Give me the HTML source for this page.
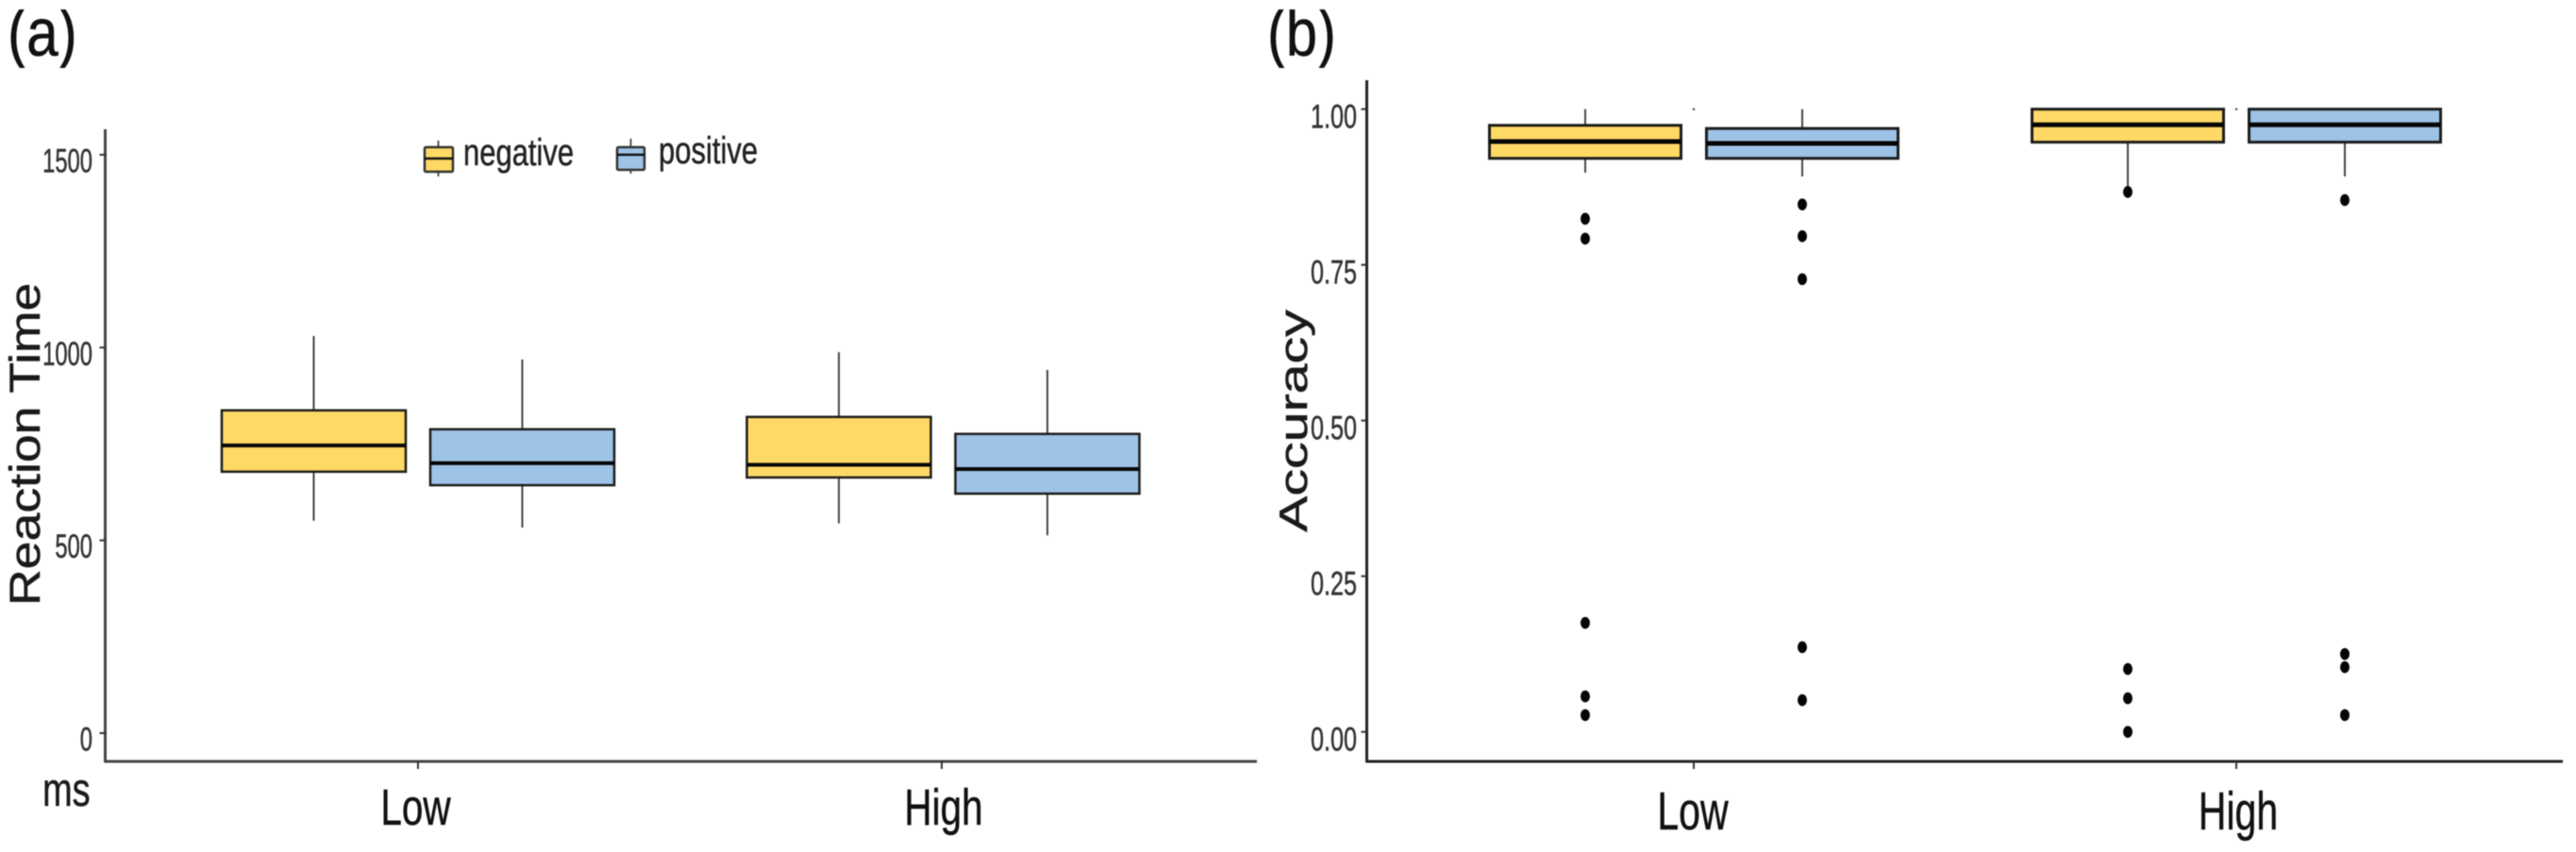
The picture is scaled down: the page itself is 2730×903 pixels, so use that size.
<!DOCTYPE html>
<html lang="en">
<head>
<meta charset="utf-8">
<title>Reaction time and accuracy box plots</title>
<style>
  html, body { margin: 0; padding: 0; background: #fff; }
  body { width: 2730px; height: 903px; overflow: hidden; }
  svg { display: block; filter: blur(0.55px); }
  text { font-family: "Liberation Sans", Arial, sans-serif; stroke-width: 0.5px; }
</style>
</head>
<body>
<svg id="figure" xmlns="http://www.w3.org/2000/svg" width="2730" height="903" viewBox="0 0 2730 903">
  <defs>
    <clipPath id="label-clip"><rect x="0" y="10" width="2730" height="62"/></clipPath>
  </defs>
  <rect x="0" y="0" width="2730" height="903" fill="#ffffff"/>

  <g clip-path="url(#label-clip)">
    <text transform="translate(8,59) scale(0.85,1)" font-size="71" fill="#111" stroke="#111">(a)</text>
    <text transform="translate(1343,59) scale(0.84,1)" font-size="71" fill="#111" stroke="#111">(b)</text>
  </g>

  <text transform="translate(42,642) rotate(-90) scale(1.19,1)" font-size="45" fill="#1a1a1a" stroke="#1a1a1a">Reaction Time</text>
  <text transform="translate(1385,564) rotate(-90) scale(1.365,1)" font-size="42" fill="#1a1a1a" stroke="#1a1a1a">Accuracy</text>
  <text transform="translate(45,854) scale(0.76,1)" font-size="50" fill="#1a1a1a" stroke="#1a1a1a">ms</text>

  <g id="plot-a"></g>
  <g id="plot-b"></g>

  <g>
    <g>
      <line x1="464.5" x2="464.5" y1="149" y2="187" stroke="#555" stroke-width="2"/>
      <rect x="450" y="156" width="30" height="26" rx="1.5" fill="#FFD966" stroke="#333" stroke-width="2.5"/>
      <line x1="450" x2="480" y1="168" y2="168" stroke="#111" stroke-width="2.5"/>
      <text transform="translate(491,175) scale(0.775,1)" font-size="40" fill="#222" stroke="#222">negative</text>
    </g>
    <g>
      <line x1="668.5" x2="668.5" y1="147" y2="184" stroke="#555" stroke-width="2"/>
      <rect x="654" y="156" width="29" height="24" rx="1.5" fill="#9DC3E6" stroke="#333" stroke-width="2.5"/>
      <line x1="654" x2="683" y1="164" y2="164" stroke="#111" stroke-width="2.5"/>
      <text transform="translate(698,173) scale(0.775,1)" font-size="40" fill="#222" stroke="#222">positive</text>
    </g>
  </g>
</svg>

<script>
// Shared categories; every series array is ordered Low-negative, Low-positive, High-negative, High-positive.
const categories = ['Low', 'High'];
const groups = ['negative', 'positive'];
const fills = ['#FFD966', '#9DC3E6'];

// Panel (a): Reaction Time
const rtTicks = [0, 500, 1000, 1500];
const rtTickLabels = ['0', '500', '1000', '1500'];
const rtWhiskerHigh = [1030, 969, 988, 942];
const rtQ3 = [837, 788, 820, 776];
const rtMedian = [746, 700, 696, 685];
const rtQ1 = [678, 643, 663, 621];
const rtWhiskerLow = [551, 533, 544, 513];
const rtOutliers = [[], [], [], []];
const rtStrayMarks = [];

// Panel (b): Accuracy
const accTicks = [0, 0.25, 0.5, 0.75, 1];
const accTickLabels = ['0.00', '0.25', '0.50', '0.75', '1.00'];
const accWhiskerHigh = [1, 1, 1, 1];
const accQ3 = [0.974, 0.969, 1, 1];
const accMedian = [0.948, 0.945, 0.975, 0.975];
const accQ1 = [0.921, 0.921, 0.947, 0.947];
const accWhiskerLow = [0.898, 0.892, 0.872, 0.892];
const accOutliers = [
  [0.824, 0.792, 0.175, 0.057, 0.027],
  [0.847, 0.796, 0.727, 0.136, 0.051],
  [0.867, 0.101, 0.054, 0],
  [0.854, 0.125, 0.104, 0.027]
];
const accStrayMarks = [1, 1];

const SVG_NS = 'http://www.w3.org/2000/svg';

function make(parent, tag, attrs) {
  const el = document.createElementNS(SVG_NS, tag);
  for (const key in attrs) el.setAttribute(key, attrs[key]);
  parent.appendChild(el);
  return el;
}

function drawPanel(cfg) {
  const root = document.getElementById(cfg.rootId);
  // Axis functions
  const y = v => cfg.y0 + (cfg.y1 - cfg.y0) * (v - cfg.domain[0]) / (cfg.domain[1] - cfg.domain[0]);
  const x = i => cfg.x0 + cfg.xStep * i;

  const yAxis = make(root, 'line', { x1: cfg.axisX, x2: cfg.axisX, y1: cfg.axisTop, y2: cfg.axisY + 1, stroke: cfg.axisColor, 'stroke-width': cfg.axisWidth });
  
  
  const xAxis = make(root, 'line', { x1: cfg.axisX - 1, x2: cfg.axisRight, y1: cfg.axisY, y2: cfg.axisY, stroke: cfg.axisColor, 'stroke-width': cfg.axisWidth });
  
  

  cfg.ticks.forEach((t, i) => {
    const tick = make(root, 'line', { x1: cfg.axisX - 6, x2: cfg.axisX, y1: y(t), y2: y(t), stroke: '#333', 'stroke-width': 2 });
    
    
    const label = make(root, 'text', {
      transform: `translate(${cfg.tickLabelRight},${y(t) + cfg.tickLabelDy}) scale(${cfg.tickLabelScale},1)`,
      'text-anchor': 'end', 'font-size': 35, fill: '#333', stroke: '#333'
    });
    
    
    label.textContent = cfg.tickLabels[i];
  });

  categories.forEach((c, i) => {
    const tick = make(root, 'line', { x1: x(i), x2: x(i), y1: cfg.axisY, y2: cfg.axisY + 8, stroke: '#333', 'stroke-width': 2 });
    
    
    const label = make(root, 'text', {
      transform: `translate(${x(i) + cfg.catLabelDx[i]},${cfg.catLabelY}) scale(${cfg.catLabelScale},1)`,
      'text-anchor': 'middle', 'font-size': cfg.catLabelSize, fill: '#111', stroke: '#111'
    });
    
    
    label.textContent = c;
  });

  cfg.strayMarks.forEach((v, i) => {
    const mark = make(root, 'circle', { cx: x(i), cy: y(v), r: 1.3, fill: '#666' });
    
    
  });

  cfg.q1.forEach((_, k) => {
    const cat = Math.floor(k / 2);
    const grp = k % 2;
    const cx = x(cat) + (grp === 0 ? -1 : 1) * cfg.dodge + cfg.catBoxDx[cat];
    const left = cx - cfg.boxWidth / 2;
    const g = make(root, 'g', {});
    
    
    g.setAttribute('aria-label', categories[cat] + ' ' + groups[grp]);

    const whiskerUp = make(g, 'line', { x1: cx, x2: cx, y1: y(cfg.whiskerHigh[k]), y2: y(cfg.q3[k]), stroke: '#444', 'stroke-width': 2 });
    
    
    const whiskerDown = make(g, 'line', { x1: cx, x2: cx, y1: y(cfg.q1[k]), y2: y(cfg.whiskerLow[k]), stroke: '#444', 'stroke-width': 2 });
    
    
    const rect = make(g, 'rect', {
      x: left, y: y(cfg.q3[k]), width: cfg.boxWidth, height: y(cfg.q1[k]) - y(cfg.q3[k]),
      fill: fills[grp], stroke: '#1c1c1c', 'stroke-width': cfg.boxStroke
    });
    
    
    const median = make(g, 'line', { x1: left, x2: left + cfg.boxWidth, y1: y(cfg.median[k]), y2: y(cfg.median[k]), stroke: '#050505', 'stroke-width': cfg.medianWidth });
    
    

    cfg.outliers[k].forEach(v => {
      const dot = make(g, 'ellipse', { cx: cx, cy: y(v), rx: 5, ry: 6.3, fill: '#050505' });
      
      
    });
  });
}

drawPanel({
  rootId: 'plot-a', domain: [0, 1500], y0: 777, y1: 164, x0: 443, xStep: 555, dodge: 110.5, boxWidth: 195, catBoxDx: [0, 1.5],
  axisX: 111.5, axisTop: 137, axisY: 807, axisRight: 1332, axisColor: '#444', axisWidth: 3,
  ticks: rtTicks, tickLabels: rtTickLabels, tickLabelRight: 98, tickLabelDy: 18.5, tickLabelScale: 0.68,
  catLabelDx: [-2.5, 2], catLabelY: 874, catLabelScale: 0.75, catLabelSize: 54,
  whiskerHigh: rtWhiskerHigh, q3: rtQ3, median: rtMedian, q1: rtQ1, whiskerLow: rtWhiskerLow, outliers: rtOutliers, strayMarks: rtStrayMarks,
  boxStroke: 2.5, medianWidth: 4
});

drawPanel({
  rootId: 'plot-b', domain: [0, 1], y0: 775.7, y1: 115.7, x0: 1795, xStep: 575, dodge: 115, boxWidth: 203, catBoxDx: [0, 0],
  axisX: 1448.5, axisTop: 85, axisY: 807, axisRight: 2716, axisColor: '#222', axisWidth: 3,
  ticks: accTicks, tickLabels: accTickLabels, tickLabelRight: 1438, tickLabelDy: 20, tickLabelScale: 0.72,
  catLabelDx: [-1, 2], catLabelY: 879, catLabelScale: 0.72, catLabelSize: 57,
  whiskerHigh: accWhiskerHigh, q3: accQ3, median: accMedian, q1: accQ1, whiskerLow: accWhiskerLow, outliers: accOutliers, strayMarks: accStrayMarks,
  boxStroke: 3, medianWidth: 5
});
</script>
</body>
</html>
